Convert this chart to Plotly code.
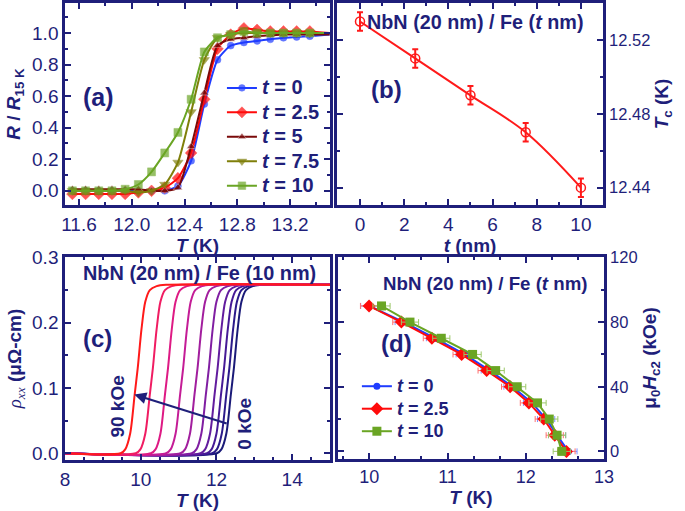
import plotly.graph_objects as go

NAVY = '#1f1f7a'
FONT = 'Liberation Sans, Arial, sans-serif'

# ---- panel (a): R / R15K vs T for several Fe thicknesses
temps_a = [11.55, 11.65, 11.75, 11.85, 11.95, 12.05, 12.15, 12.25, 12.35, 12.45,
           12.55, 12.65, 12.75, 12.85, 12.95, 13.05, 13.15, 13.25, 13.35, 13.5]
r_t0 = [0.0, 0.0, 0.0, 0.0, 0.0, 0.0, 0.0, 0.0, 0.03, 0.19,
        0.55, 0.83, 0.92, 0.94, 0.95, 0.96, 0.97, 0.975, 0.98, 0.99]
r_t25 = [-0.02, -0.02, -0.02, -0.02, -0.02, -0.01, 0.0, 0.02, 0.08, 0.24,
         0.58, 0.90, 0.99, 1.03, 1.02, 1.01, 1.01, 1.01, 1.01, 1.0]
r_t5 = [0.01, 0.01, 0.01, 0.01, 0.01, 0.01, 0.0, 0.0, 0.02, 0.28,
        0.62, 0.92, 0.96, 0.97, 0.98, 0.985, 0.99, 0.99, 0.99, 0.99]
r_t75 = [0.0, 0.0, 0.0, 0.0, 0.0, -0.01, 0.0, 0.04, 0.18, 0.50,
         0.83, 0.97, 0.99, 1.0, 1.0, 1.0, 1.0, 1.0, 1.0, 1.0]
r_t10 = [0.0, 0.0, 0.0, 0.0, 0.01, 0.04, 0.12, 0.24, 0.37, 0.58,
         0.88, 0.97, 0.99, 1.01, 1.0, 1.0, 1.0, 1.0, 1.0, 1.0]

# ---- panel (b): Tc vs Fe thickness
t_fe = [0, 2.5, 5, 7.5, 10]
tc_b = [12.530, 12.510, 12.490, 12.470, 12.440]
tc_err = [0.005, 0.005, 0.005, 0.005, 0.005]

# ---- panel (c): rho_xx(T) at fields 0..90 kOe (transition midpoints + common shape)
fields = [0, 10, 20, 30, 40, 50, 60, 70, 80, 90]
t_mid = [12.46, 12.34, 12.20, 12.03, 11.80, 11.50, 11.12, 10.72, 10.32, 9.92]
field_colors = ['#1a1a78', '#2b1a8a', '#461a96', '#621c9e', '#801ea2',
                '#a21e9e', '#c41c96', '#de1a84', '#f01c62', '#ff1a1a']
shape_dt = [-0.45, -0.33, -0.2, -0.08, 0.0, 0.1, 0.2, 0.32, 0.5, 0.75]
shape_rho = [0.0, 0.006, 0.03, 0.09, 0.13, 0.19, 0.232, 0.25, 0.256, 0.258]
rho_normal = 0.258

# ---- panel (d): Hc2 vs T
h_d = [90, 80, 70, 60, 50, 40, 30, 20, 10, 0]
tc_d_t0 = [10.00, 10.44, 10.84, 11.22, 11.54, 11.83, 12.08, 12.26, 12.40, 12.545]
tc_d_t25 = [9.997, 10.41, 10.80, 11.18, 11.50, 11.80, 12.04, 12.23, 12.37, 12.52]
tc_d_t10 = [10.156, 10.52, 10.92, 11.32, 11.615, 11.89, 12.15, 12.30, 12.40, 12.46]
tc_d_err = [0.11, 0.11, 0.11, 0.11, 0.11, 0.11, 0.11, 0.11, 0.11, 0.11]

fig = go.Figure()


def leg_name(label, px):
    # legend rows are spaced by the legend font; the label itself is drawn larger
    return "<span style='font-size:%spx'><b><i>t</i>%s</b></span>" % (px, label[1:])


leg_sym = [('t = 0', r_t0, '#1f3cff', 'circle', 7),
           ('t = 2.5', r_t25, '#ff0a0a', 'diamond', 9),
           ('t = 5', r_t5, '#7a0a0a', 'triangle-up', 8),
           ('t = 7.5', r_t75, '#7f7f0a', 'triangle-down', 9),
           ('t = 10', r_t10, '#6aa524', 'square', 8)]
for name, vals, col, sym, sz in leg_sym:
    sizes = [sz] * (len(temps_a) - 1) + [0]
    fig.add_trace(go.Scatter(
        x=temps_a, y=vals, mode='lines+markers', xaxis='x', yaxis='y',
        name=leg_name(name, 20), legend='legend',
        line=dict(color=col, width=2, shape='spline', smoothing=0.6),
        marker=dict(color=col, symbol=sym, size=sizes,
                    line=dict(color='white' if sym == 'triangle-up' else col, width=0.5))))

fig.add_trace(go.Scatter(
    x=t_fe, y=tc_b, mode='lines+markers', xaxis='x2', yaxis='y2', showlegend=False,
    line=dict(color='#ff1a1a', width=2, shape='spline'),
    marker=dict(symbol='circle-open', size=9, color='#ff1a1a', line=dict(width=1.5)),
    error_y=dict(type='data', array=tc_err, color='#ff1a1a', thickness=2, width=3)))

for f, mid, col in zip(fields, t_mid, field_colors):
    xs = [8.0] + [mid + d for d in shape_dt] + [15.0]
    ys = [0.0] + shape_rho + [rho_normal]
    fig.add_trace(go.Scatter(
        x=xs, y=ys, mode='lines', xaxis='x3', yaxis='y3', showlegend=False,
        line=dict(color=col, width=2, shape='spline', smoothing=0.8)))

for name, vals, col, ecol, sym, sz in [('t = 0', tc_d_t0, '#1f3cff', '#7f8fff', 'circle', 7),
                                       ('t = 2.5', tc_d_t25, '#ff0a0a', '#ff7070', 'diamond', 10),
                                       ('t = 10', tc_d_t10, '#6aa524', '#9cc86a', 'square', 9)]:
    fig.add_trace(go.Scatter(
        x=vals, y=h_d, mode='lines+markers', xaxis='x4', yaxis='y4',
        name=leg_name(name, 18), legend='legend2',
        line=dict(color=col, width=2),
        marker=dict(color=col, symbol=sym, size=sz),
        error_x=dict(type='data', array=tc_d_err, color=ecol, thickness=1, width=3)))


def axis(domain, rng, anchor, title, dtick, minor, tick0=None, fmt=None, side=None,
         standoff=4, tsize=19):
    d = dict(domain=domain, range=rng, anchor=anchor, showline=True, linewidth=2.5,
             linecolor=NAVY, mirror='allticks', ticks='inside', ticklen=6, tickwidth=1.5,
             tickcolor=NAVY, dtick=dtick, showgrid=False, zeroline=False, automargin=False,
             tickfont=dict(family=FONT, size=tsize, color=NAVY),
             title=dict(text=title, font=dict(family=FONT, size=19, color=NAVY), standoff=standoff),
             minor=dict(dtick=minor, ticks='inside', ticklen=3.5, tickwidth=1.5, tickcolor=NAVY, showgrid=False))
    if tick0 is not None:
        d['tick0'] = tick0
        d['minor']['tick0'] = tick0
    if fmt:
        d['tickformat'] = fmt
    if side:
        d['side'] = side
    return d


xa, xb = [0.0949, 0.4818], [0.492, 0.8803]
xc, xd = [0.0949, 0.4818], [0.4934, 0.8818]
ya, yc, yd = [0.5988, 0.9941], [0.0998, 0.4971], [0.1018, 0.4971]

fig.update_layout(
    width=685, height=511, margin=dict(l=0, r=0, t=0, b=0),
    paper_bgcolor='white', plot_bgcolor='white',
    font=dict(family=FONT, color=NAVY),
    xaxis=axis(xa, [11.494, 13.503], 'y', '<b><i>T</i> (K)</b>', 0.4, 0.2, tick0=11.6, fmt='.1f', standoff=0),
    yaxis=axis(ya, [-0.09, 1.19], 'x', '<b><i>R</i> / <i>R</i><sub>15 K</sub></b>', 0.2, 0.1,
               tick0=0, fmt='.1f', standoff=7),
    xaxis2=axis(xb, [-1.04, 11.0], 'y2', '<b><i>t</i> (nm)</b>', 2, 1, tick0=0, standoff=0),
    yaxis2=axis(ya, [12.4306, 12.54], 'x2', '<b><i>T</i><sub>c</sub> (K)</b>', 0.04, 0.02,
                tick0=12.44, fmt='.2f', side='right', standoff=6, tsize=16.5),
    xaxis3=axis(xc, [8, 15], 'y3', '<b><i>T</i> (K)</b>', 2, 0.5, tick0=8, standoff=0),
    yaxis3=axis(yc, [-0.0103, 0.3007], 'x3',
                "<span style='font-family:Liberation Serif'><i>ρ</i><sub><i>xx</i></sub></span> <b>(μΩ-cm)</b>",
                0.1, 0.05, tick0=0, fmt='.1f', standoff=6),
    xaxis4=axis(xd, [9.6, 13.0], 'y4', '<b><i>T</i> (K)</b>', 1, 1 / 3, tick0=10, standoff=0, tsize=18),
    yaxis4=axis(yd, [-4.7, 120.3], 'x4', '<b>μ<sub>0</sub><i>H</i><sub>c2</sub> (kOe)</b>', 40, 20,
                tick0=0, side='right', standoff=7, tsize=16.5),
    legend=dict(x=0.324, y=0.8617, xanchor='left', yanchor='top', bgcolor='rgba(0,0,0,0)',
                font=dict(family=FONT, size=16.5, color=NAVY), tracegroupgap=0, itemwidth=30),
    legend2=dict(x=0.521, y=0.276, xanchor='left', yanchor='top', bgcolor='rgba(0,0,0,0)',
                 font=dict(family=FONT, size=15, color=NAVY), tracegroupgap=0, itemwidth=30),
)

ann = [
    dict(x=11.75, y=0.597, xref='x', yref='y', text='<b>(a)</b>', font=dict(size=25)),
    dict(x=1.21, y=12.493, xref='x2', yref='y2', text='<b>(b)</b>', font=dict(size=24)),
    dict(x=5.21, y=12.5299, xref='x2', yref='y2', text='<b>NbN (20 nm) / Fe (<i>t</i> nm)</b>', font=dict(size=19.8)),
    dict(x=8.87, y=0.176, xref='x3', yref='y3', text='<b>(c)</b>', font=dict(size=24)),
    dict(x=11.56, y=0.276, xref='x3', yref='y3', text='<b>NbN (20 nm) / Fe (10 nm)</b>', font=dict(size=19.9)),
    dict(x=9.39, y=0.071, xref='x3', yref='y3', text='<b>90 kOe</b>', textangle=-90, font=dict(size=19)),
    dict(x=12.74, y=0.046, xref='x3', yref='y3', text='<b>0 kOe</b>', textangle=-90, font=dict(size=19)),
    dict(x=10.35, y=66.7, xref='x4', yref='y4', text='<b>(d)</b>', font=dict(size=24)),
    dict(x=11.49, y=104, xref='x4', yref='y4', text='<b>NbN (20 nm) / Fe (<i>t</i> nm)</b>', font=dict(size=18.7)),
]
for a in ann:
    a['showarrow'] = False
    a['font'].update(family=FONT, color=NAVY)
    fig.add_annotation(**a)

fig.add_annotation(x=9.83, y=0.09, ax=12.31, ay=0.045, xref='x3', yref='y3', axref='x3', ayref='y3',
                   showarrow=True, arrowhead=2, arrowsize=1.2, arrowwidth=2, arrowcolor=NAVY, text='')

# drop the default page margin so the 685x511 figure sits at the window origin
fig.write_html("out.html", config={'displayModeBar': False},
               post_script="document.body.style.margin='0';")
